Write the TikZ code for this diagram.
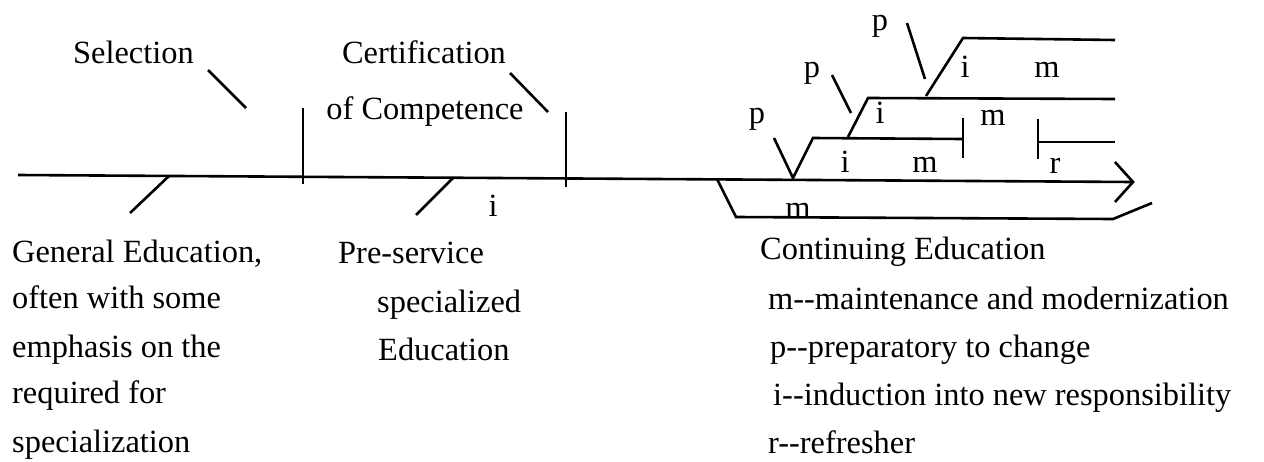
\documentclass[tikz,border=0pt]{standalone}
\usepackage{fontspec}
\setmainfont{Liberation Serif}
\begin{document}
\begin{tikzpicture}[x=1pt,y=-1pt,
  ln/.style={line width=2.6pt, line join=miter},
  lbl/.style={inner sep=0pt, anchor=base, font=\fontsize{32.4}{38}\selectfont},
  txt/.style={inner sep=0pt, anchor=base west, font=\fontsize{32.4}{38}\selectfont}]
\useasboundingbox (0,0) rectangle (1264,461);
% main time line
\coordinate (start) at (18,175);
\coordinate (tip) at (1133,182);
\draw[ln] (start) -- (tip);
\draw[ln] (1115,162) -- (tip) -- (1115,202);
% left part
\draw[ln] (208,70) -- (246,108);
\draw[ln] (303,108) -- (303,184);
\draw[ln] (169,176) -- (130,213);
\draw[ln] (510,73) -- (548,112);
\draw[ln] (566,112) -- (566,187);
\draw[ln] (453,178) -- (416,215);
% continuing education
\draw[ln] (717,179) -- (736,217) -- (1113,219) -- (1152,203);
\draw[ln] (774,138) -- (793,178) -- (813,138) -- (963,139);
\draw[ln] (963,118) -- (963,158);
\draw[ln] (848,137) -- (868,98) -- (1115,99);
\draw[ln] (832,75) -- (851,113);
\draw[ln] (926,96) -- (963,38) -- (1115,40);
\draw[ln] (907,23) -- (925,79);
\draw[ln] (1038,119) -- (1038,159);
\draw[ln] (1038,142) -- (1115,142);
% labels on diagram
\node[txt] (sel) at (73,63) {Selection};
\node[lbl] (cert1) at (424,63) {Certification};
\node[lbl] (cert2) at (425,119) {of Competence};
\node[lbl] (i0) at (493,216) {i};
\node[lbl] (p1) at (757,123) {p};
\node[lbl] (p2) at (812,77) {p};
\node[lbl] (p3) at (880,30) {p};
\node[lbl] (i1) at (845,172) {i};
\node[lbl] (m1) at (925,172) {m};
\node[lbl] (i2) at (880,123) {i};
\node[lbl] (m2) at (993,125) {m};
\node[lbl] (i3) at (965,77) {i};
\node[lbl] (m3) at (1047,77) {m};
\node[lbl] (r1) at (1055,173) {r};
\node[lbl] (m0) at (798,218) {m};
% bottom texts
\node[txt] (g1) at (12,262) {General Education,};
\node[txt] (g2) at (12,308) {often with some};
\node[txt] (g3) at (12,357) {emphasis on the};
\node[txt] (g4) at (12,403) {required for};
\node[txt] (g5) at (12,452) {specialization};
\node[txt] (ps1) at (338,263) {Pre-service};
\node[txt] (ps2) at (377,312) {specialized};
\node[txt] (ps3) at (378,360) {Education};
\node[txt] (c1) at (760,259) {Continuing Education};
\node[txt] (c2) at (768,309) {m-\kern0pt-maintenance and modernization};
\node[txt] (c3) at (770,357) {p-\kern0pt-preparatory to change};
\node[txt] (c4) at (773,405) {i-\kern0pt-induction into new responsibility};
\node[txt] (c5) at (768,453) {r-\kern0pt-refresher};
\end{tikzpicture}
\end{document}
